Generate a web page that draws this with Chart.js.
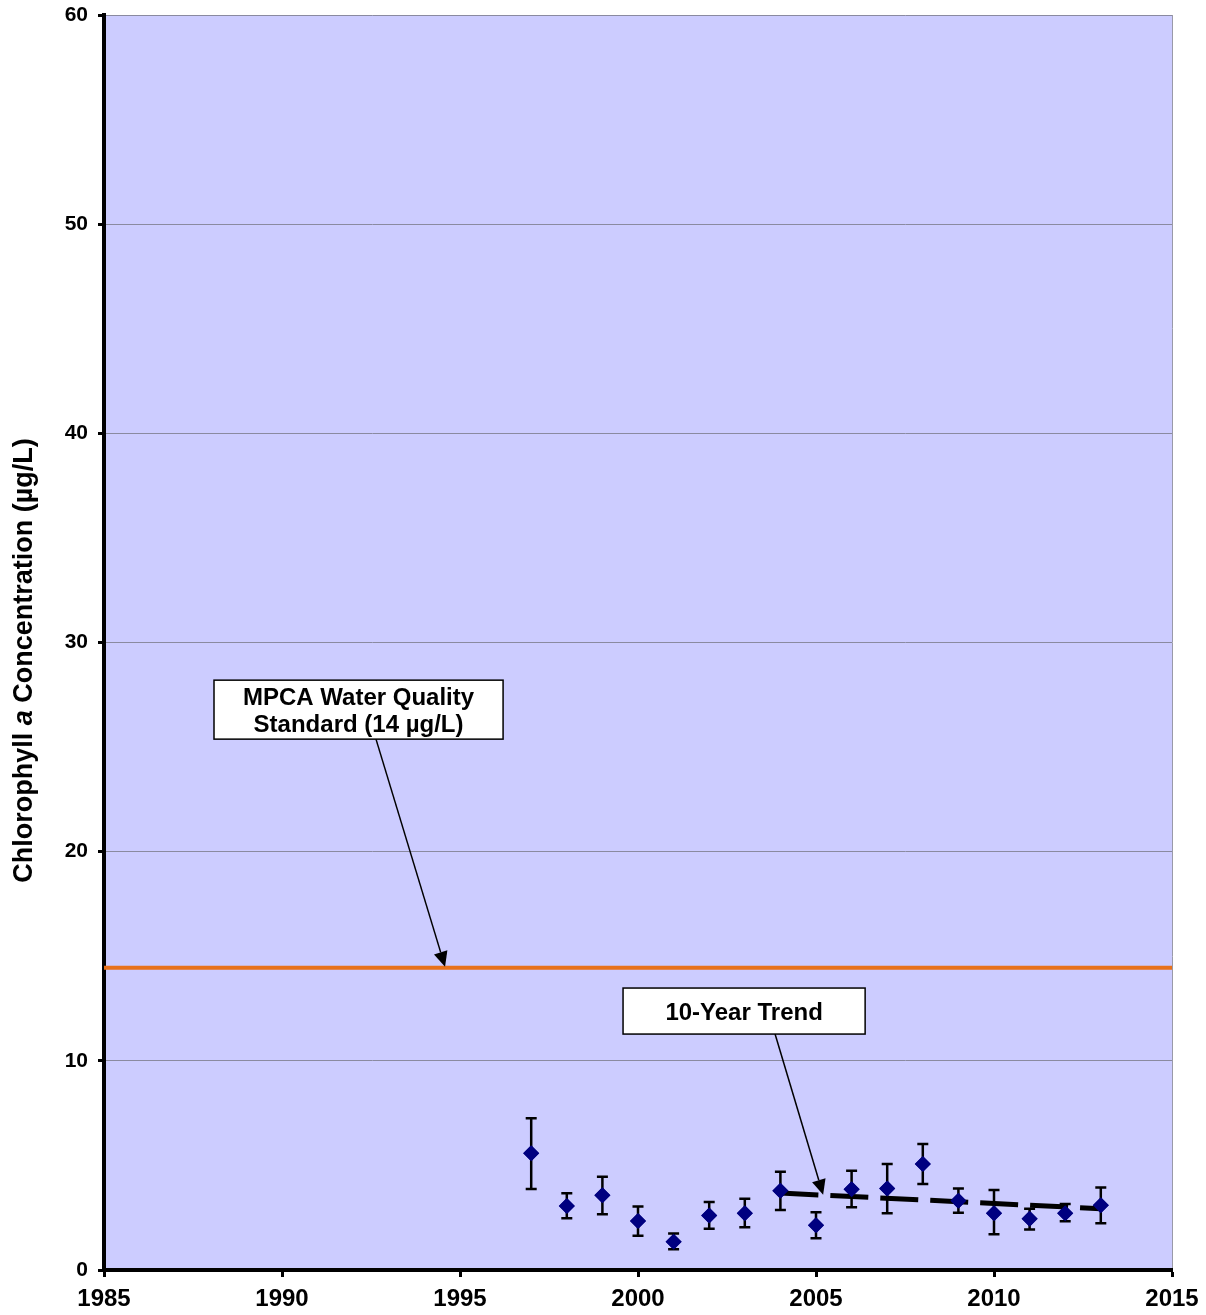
<!DOCTYPE html>
<html>
<head>
<meta charset="utf-8">
<script src="https://cdn.jsdelivr.net/npm/chart.js@4"></script>
<style>
  html, body { margin: 0; padding: 0; background: #fff; }
  #wrap { width: 1206px; height: 1315px; position: relative; }
</style>
</head>
<body>
<div id="wrap"><canvas id="chlChart"></canvas></div>
<script>
// Chlorophyll a yearly means with error bars
const years = [1997, 1998, 1999, 2000, 2001, 2002, 2003, 2004, 2005, 2006, 2007, 2008, 2009, 2010, 2011, 2012, 2013];
const chlMean = [5.58, 3.06, 3.57, 2.34, 1.35, 2.60, 2.71, 3.79, 2.14, 3.86, 3.90, 5.07, 3.31, 2.71, 2.45, 2.71, 3.09];
const errHigh = [7.25, 3.67, 4.46, 3.03, 1.75, 3.25, 3.41, 4.70, 2.76, 4.75, 5.07, 6.02, 3.90, 3.82, 2.93, 3.15, 3.95];
const errLow  = [3.87, 2.47, 2.66, 1.64, 0.99, 1.97, 2.04, 2.87, 1.52, 3.00, 2.71, 4.11, 2.74, 1.71, 1.94, 2.33, 2.23];

// 10-year trend
const trendYears = [2004, 2013];
const trendValues = [3.68, 2.93];

// MPCA standard line
const standardYears = [1985, 2015];
const standardValues = [14.45, 14.45];

// axis ticks
const xTickValues = [1985, 1990, 1995, 2000, 2005, 2010, 2015];
const yTickValues = [0, 10, 20, 30, 40, 50, 60];

const FONT = "'Liberation Sans', Arial, sans-serif";

// callout boxes, in data units
const callouts = [
    {
        lines: ['MPCA Water Quality', 'Standard (14 \u00b5g/L)'],
        box: { x1: 1988.09, x2: 1996.21, yTop: 28.2, yBottom: 25.38 },
        arrow: { fromX: 1992.64, fromY: 25.38, toX: 1994.58, toY: 14.5 }
    },
    {
        lines: ['10-Year Trend'],
        box: { x1: 1999.58, x2: 2006.38, yTop: 13.48, yBottom: 11.28 },
        arrow: { fromX: 2003.85, fromY: 11.28, toX: 2005.2, toY: 3.6 }
    }
];

const plotBackground = {
    id: 'plotBackground',
    beforeDraw(chart) {
        const { ctx, chartArea: a } = chart;
        ctx.save();
        ctx.fillStyle = '#ccccff';
        ctx.fillRect(a.left, a.top, a.right - a.left, a.bottom - a.top);
        ctx.strokeStyle = '#9a9aa8';
        ctx.lineWidth = 1;
        ctx.beginPath();
        ctx.moveTo(a.right + 0.5, a.top);
        ctx.lineTo(a.right + 0.5, a.bottom);
        ctx.stroke();
        ctx.restore();
    }
};

const errorBars = {
    id: 'errorBars',
    afterDatasetsDraw(chart) {
        const { ctx, scales: { x, y } } = chart;
        ctx.save();
        ctx.strokeStyle = '#000';
        ctx.lineWidth = 2.5;
        years.forEach((yr, i) => {
            const px = x.getPixelForValue(yr);
            const top = y.getPixelForValue(errHigh[i]);
            const bot = y.getPixelForValue(errLow[i]);
            ctx.beginPath();
            ctx.moveTo(px, top); ctx.lineTo(px, bot);
            ctx.moveTo(px - 5.5, top); ctx.lineTo(px + 5.5, top);
            ctx.moveTo(px - 5.5, bot); ctx.lineTo(px + 5.5, bot);
            ctx.stroke();
        });
        ctx.restore();
        // redraw diamonds on top of bars
        chart.getDatasetMeta(2).controller.draw();
    }
};

const calloutPlugin = {
    id: 'callouts',
    afterDraw(chart) {
        const { ctx, scales: { x, y } } = chart;
        ctx.save();
        callouts.forEach(c => {
            const l = x.getPixelForValue(c.box.x1), r = x.getPixelForValue(c.box.x2);
            const t = y.getPixelForValue(c.box.yTop), b = y.getPixelForValue(c.box.yBottom);
            // arrow
            const ax = x.getPixelForValue(c.arrow.fromX), ay = y.getPixelForValue(c.arrow.fromY);
            const bx = x.getPixelForValue(c.arrow.toX), by = y.getPixelForValue(c.arrow.toY);
            const ang = Math.atan2(by - ay, bx - ax);
            const headLen = 15, headW = 7;
            const hx = bx - headLen * Math.cos(ang), hy = by - headLen * Math.sin(ang);
            ctx.strokeStyle = '#000';
            ctx.lineWidth = 1.5;
            ctx.beginPath();
            ctx.moveTo(ax, ay); ctx.lineTo(hx, hy);
            ctx.stroke();
            ctx.fillStyle = '#000';
            ctx.beginPath();
            ctx.moveTo(bx, by);
            ctx.lineTo(hx + headW * Math.sin(ang), hy - headW * Math.cos(ang));
            ctx.lineTo(hx - headW * Math.sin(ang), hy + headW * Math.cos(ang));
            ctx.closePath();
            ctx.fill();
            // box
            ctx.fillStyle = '#fff';
            ctx.fillRect(l, t, r - l, b - t);
            ctx.lineWidth = 1.5;
            ctx.strokeRect(l, t, r - l, b - t);
            ctx.fillStyle = '#000';
            ctx.font = 'bold 24px ' + FONT;
            ctx.textAlign = 'center';
            ctx.textBaseline = 'middle';
            const lh = 27;
            const cy = (t + b) / 2 + 2 - (c.lines.length - 1) * lh / 2;
            c.lines.forEach((txt, i) => ctx.fillText(txt, (l + r) / 2, cy + i * lh));
        });
        ctx.restore();
    }
};

const yTitle = {
    id: 'yTitle',
    afterDraw(chart) {
        const { ctx, chartArea: a } = chart;
        const parts = [
            { t: 'Chlorophyll ', f: 'bold 27px ' + FONT },
            { t: 'a', f: 'italic bold 27px ' + FONT },
            { t: ' Concentration (\u00b5g/L)', f: 'bold 27px ' + FONT }
        ];
        ctx.save();
        let total = 0;
        parts.forEach(p => { ctx.font = p.f; p.w = ctx.measureText(p.t).width; total += p.w; });
        ctx.translate(25, (a.top + a.bottom) / 2 + 18);
        ctx.rotate(-Math.PI / 2);
        ctx.fillStyle = '#000';
        ctx.textBaseline = 'middle';
        ctx.textAlign = 'left';
        let cx = -total / 2;
        parts.forEach(p => { ctx.font = p.f; ctx.fillText(p.t, cx, 0); cx += p.w; });
        ctx.restore();
    }
};

new Chart(document.getElementById('chlChart'), {
    type: 'scatter',
    data: {
        datasets: [
            {
                label: 'MPCA Standard',
                type: 'line',
                data: standardYears.map((yr, i) => ({ x: yr, y: standardValues[i] })),
                borderColor: '#e8711a',
                borderWidth: 4,
                pointRadius: 0,
                fill: false
            },
            {
                label: '10-Year Trend',
                type: 'line',
                data: trendYears.map((yr, i) => ({ x: yr, y: trendValues[i] })),
                borderColor: '#000',
                borderWidth: 5,
                borderDash: [38, 12],
                pointRadius: 0,
                fill: false
            },
            {
                label: 'Chlorophyll a',
                data: years.map((yr, i) => ({ x: yr, y: chlMean[i] })),
                pointStyle: 'rectRot',
                pointRadius: 8,
                backgroundColor: '#000080',
                borderColor: '#000080',
                borderWidth: 0
            }
        ]
    },
    options: {
        responsive: true,
        maintainAspectRatio: false,
        animation: false,
        layout: { padding: { top: 15, right: 34, bottom: 0, left: 0 } },
        plugins: {
            legend: { display: false },
            tooltip: { enabled: false }
        },
        scales: {
            x: {
                type: 'linear',
                min: 1985,
                max: 2015,
                afterFit(scale) {
                    scale.height = 45;
                    scale.paddingLeft = 0;
                    scale.paddingRight = 0;
                },
                afterBuildTicks(scale) { scale.ticks = xTickValues.map(v => ({ value: v })); },
                ticks: {
                    callback: v => String(v),
                    color: '#000',
                    padding: 8,
                    font: { family: FONT, size: 24, weight: 'bold' }
                },
                grid: {
                    drawOnChartArea: false,
                    tickColor: '#000',
                    tickLength: 7,
                    tickWidth: 3
                },
                border: { color: '#000', width: 4 }
            },
            y: {
                min: 0,
                max: 60,
                afterFit(scale) {
                    scale.width = 104;
                    scale.paddingTop = 0;
                    scale.paddingBottom = 0;
                },
                afterBuildTicks(scale) { scale.ticks = yTickValues.map(v => ({ value: v })); },
                ticks: {
                    color: '#000',
                    padding: 10,
                    font: { family: FONT, size: 21, weight: 'bold' }
                },
                grid: {
                    color: '#8a8aa0',
                    lineWidth: 1,
                    tickColor: '#000',
                    tickLength: 6,
                    tickWidth: 3
                },
                border: { color: '#000', width: 4 }
            }
        }
    },
    plugins: [plotBackground, errorBars, calloutPlugin, yTitle]
});
</script>
</body>
</html>
